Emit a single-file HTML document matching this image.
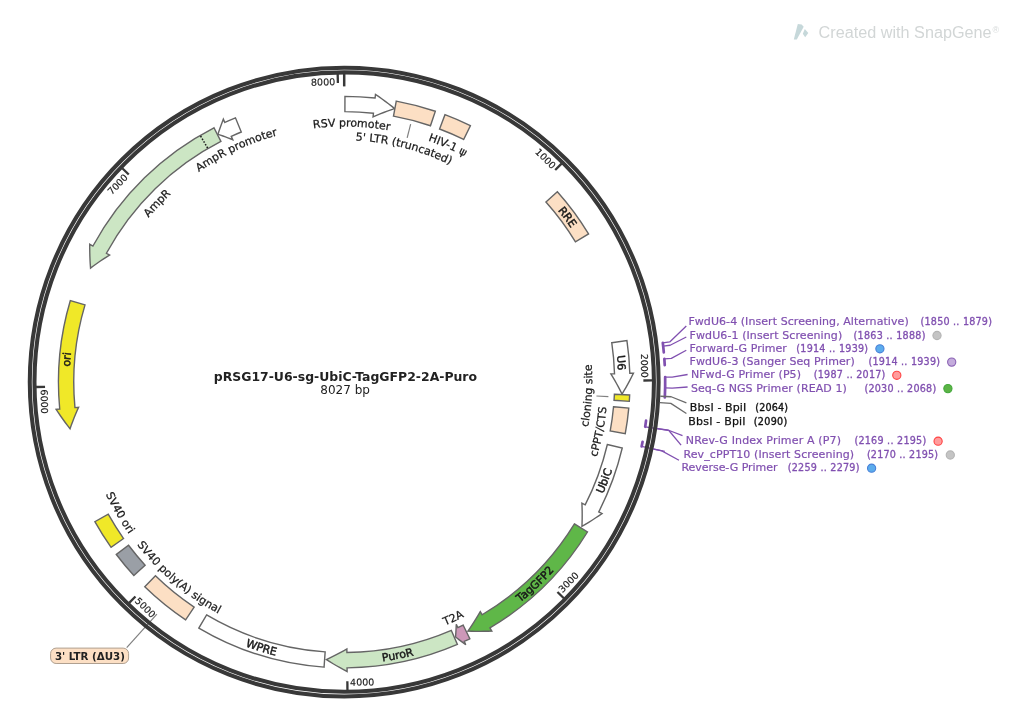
<!DOCTYPE html>
<html lang="en">
<head>
<meta charset="utf-8">
<title>pRSG17-U6-sg-UbiC-TagGFP2-2A-Puro</title>
<style>
html,body{margin:0;padding:0;background:#fff;}
body{width:1024px;height:724px;overflow:hidden;}
svg{display:block;font-family:"DejaVu Sans", "Liberation Sans", sans-serif;}
svg text{white-space:pre;}
</style>
</head>
<body>
<svg width="1024" height="724" viewBox="0 0 1024 724">
<rect width="1024" height="724" fill="#ffffff"/>
<defs>
<path id="p1" d="M266.38 119.38 A274 274 0 0 1 572.68 533.33"/>
<path id="p2" d="M419.72 118.71 A274 274 0 0 1 455.65 632.41"/>
<path id="p3" d="M340.26 664.07 A282 282 0 0 0 528.46 168.63"/>
<path id="p4" d="M217.71 634.14 A282 282 0 0 0 603.1 270.33"/>
<path id="p5" d="M102.61 527.55 A282 282 0 0 0 622.77 425.97"/>
<path id="p6" d="M62.51 395.38 A282 282 0 0 0 568.52 552.99"/>
<path id="p7" d="M229.63 631.77 A274.7 274.7 0 0 1 271.48 117.2"/>
<path id="p8" d="M106.63 287.8 A255.6 255.6 0 0 1 586.8 301.63"/>
<path id="p9" d="M144.45 245.84 A241.8 241.8 0 0 1 584.8 358.08"/>
<path id="p10" d="M159.1 205.83 A255.6 255.6 0 0 1 599.3 398.15"/>
<path id="p11" d="M415.88 619.52 A248 248 0 0 0 441.9 154.15"/>
<path id="p12" d="M385.42 642.36 A263.5 263.5 0 0 0 479.91 156.24"/>
<path id="p13" d="M157.23 567.77 A263.5 263.5 0 0 0 606.78 360.05"/>
<path id="p14" d="M96.91 291.11 A263.5 263.5 0 0 0 475.15 610.76"/>
<path id="p15" d="M141.76 213.43 A263.5 263.5 0 0 0 390.86 641.44"/>
<path id="p16" d="M115.06 495.35 A255.6 255.6 0 0 1 446.94 148.06"/>
<path id="p17" d="M89.53 403.93 A255.6 255.6 0 0 1 525.25 201.68"/>
</defs>
<path d="M645.2 426.78 L668.65 430.26" fill="none" stroke="#8050b0" stroke-width="1.3"/>
<path d="M641.62 446.46 L664.78 451.47" fill="none" stroke="#8050b0" stroke-width="1.3"/>
<path d="M156.9 614.2 L126.7 647.7" fill="none" stroke="#808080" stroke-width="1.2"/>
<circle cx="344.2" cy="382.1" r="314.42" fill="none" stroke="#383838" stroke-width="4.05"/>
<circle cx="344.2" cy="382.1" r="309.73" fill="none" stroke="#383838" stroke-width="4.05"/>
<path d="M344.2 73.9 L344.2 86.4" fill="none" stroke="#383838" stroke-width="2.5"/>
<path d="M561.55 163.59 L555.21 169.98" fill="none" stroke="#383838" stroke-width="2.3"/>
<text transform="translate(344.2 382.1) rotate(44.85)" x="-2.7" y="-297.0" text-anchor="end" font-size="9.5" fill="#1a1a1a" stroke="#1a1a1a" stroke-width="0.15">1000</text>
<path d="M652.4 380.47 L643.4 380.52" fill="none" stroke="#383838" stroke-width="2.3"/>
<text transform="translate(344.2 382.1) rotate(89.7)" x="-2.7" y="-297.0" text-anchor="end" font-size="9.5" fill="#1a1a1a" stroke="#1a1a1a" stroke-width="0.15">2000</text>
<path d="M563.85 598.3 L557.44 591.98" fill="none" stroke="#383838" stroke-width="2.3"/>
<text transform="translate(344.2 382.1) rotate(314.55)" x="2.7" y="303.6" text-anchor="start" font-size="9.5" fill="#1a1a1a" stroke="#1a1a1a" stroke-width="0.15">3000</text>
<path d="M347.46 690.28 L347.36 681.28" fill="none" stroke="#383838" stroke-width="2.3"/>
<text transform="translate(344.2 382.1) rotate(359.39)" x="2.7" y="303.6" text-anchor="start" font-size="9.5" fill="#1a1a1a" stroke="#1a1a1a" stroke-width="0.15">4000</text>
<path d="M129.17 602.89 L135.45 596.44" fill="none" stroke="#383838" stroke-width="2.3"/>
<text transform="translate(344.2 382.1) rotate(404.24)" x="2.7" y="303.6" text-anchor="start" font-size="9.5" fill="#1a1a1a" stroke="#1a1a1a" stroke-width="0.15">5000</text>
<path d="M36.04 386.99 L45.04 386.84" fill="none" stroke="#383838" stroke-width="2.3"/>
<text transform="translate(344.2 382.1) rotate(449.09)" x="2.7" y="303.6" text-anchor="start" font-size="9.5" fill="#1a1a1a" stroke="#1a1a1a" stroke-width="0.15">6000</text>
<path d="M122.28 168.24 L128.76 174.48" fill="none" stroke="#383838" stroke-width="2.3"/>
<text transform="translate(344.2 382.1) rotate(313.94)" x="-2.7" y="-297.0" text-anchor="end" font-size="9.5" fill="#1a1a1a" stroke="#1a1a1a" stroke-width="0.15">7000</text>
<path d="M337.69 73.97 L337.88 82.97" fill="none" stroke="#383838" stroke-width="2.3"/>
<text transform="translate(344.2 382.1) rotate(358.79)" x="-2.7" y="-297.0" text-anchor="end" font-size="9.5" fill="#1a1a1a" stroke="#1a1a1a" stroke-width="0.15">8000</text>
<path d="M344.91 111.65 L344.95 96.35 A285.75 285.75 0 0 1 375.09 98.02 L375.48 94.4 L378.81 96.67 L382.08 98.99 L385.3 101.34 L388.47 103.73 L391.58 106.15 L394.64 108.61 L394.64 108.61 L390.94 109.87 L387.28 111.17 L383.66 112.52 L380.08 113.92 L376.54 115.37 L373.04 116.86 L373.44 113.23 A270.45 270.45 0 0 0 344.91 111.65 Z" fill="#ffffff" stroke="#656565" stroke-width="1.4" stroke-linejoin="miter"/>
<path d="M393.49 116.18 L396.27 101.13 A285.75 285.75 0 0 1 435.34 111.28 L430.46 125.78 A270.45 270.45 0 0 0 393.49 116.18 Z" fill="#fcdfc4" stroke="#656565" stroke-width="1.4" stroke-linejoin="miter"/>
<path d="M439.58 129.03 L444.97 114.71 A285.75 285.75 0 0 1 470.36 125.71 L463.61 139.44 A270.45 270.45 0 0 0 439.58 129.03 Z" fill="#fcdfc4" stroke="#656565" stroke-width="1.4" stroke-linejoin="miter"/>
<path d="M545.94 201.98 L557.35 191.79 A285.75 285.75 0 0 1 588.54 233.95 L575.46 241.88 A270.45 270.45 0 0 0 545.94 201.98 Z" fill="#fcdfc4" stroke="#656565" stroke-width="1.4" stroke-linejoin="miter"/>
<path d="M611.76 342.69 L626.9 340.46 A285.75 285.75 0 0 1 629.81 373.25 L633.46 373.14 L631.67 376.75 L629.83 380.31 L627.94 383.82 L626.02 387.29 L624.05 390.71 L622.04 394.09 L622.04 394.09 L620.29 390.6 L618.49 387.15 L616.64 383.75 L614.76 380.4 L612.84 377.1 L610.87 373.84 L614.52 373.73 A270.45 270.45 0 0 0 611.76 342.69 Z" fill="#ffffff" stroke="#656565" stroke-width="1.4" stroke-linejoin="miter"/>
<path d="M614.38 394.27 L629.66 394.96 A285.75 285.75 0 0 1 629.3 401.34 L614.04 400.31 A270.45 270.45 0 0 0 614.38 394.27 Z" fill="#f0e828" stroke="#656565" stroke-width="1.4" stroke-linejoin="miter"/>
<path d="M613.53 406.71 L628.76 408.1 A285.75 285.75 0 0 1 625.26 433.68 L610.21 430.92 A270.45 270.45 0 0 0 613.53 406.71 Z" fill="#fcdfc4" stroke="#656565" stroke-width="1.4" stroke-linejoin="miter"/>
<path d="M607.35 444.5 L622.24 448.03 A285.75 285.75 0 0 1 598.79 511.85 L602.04 513.51 L598.73 515.81 L595.41 518.04 L592.07 520.22 L588.71 522.33 L585.34 524.38 L581.95 526.37 L581.95 526.37 L582.09 522.47 L582.17 518.58 L582.19 514.72 L582.16 510.87 L582.06 507.05 L581.91 503.25 L585.16 504.91 A270.45 270.45 0 0 0 607.35 444.5 Z" fill="#ffffff" stroke="#656565" stroke-width="1.4" stroke-linejoin="miter"/>
<path d="M574.45 523.97 L587.48 532 A285.75 285.75 0 0 1 489.93 627.89 L491.8 631.03 L487.77 631.21 L483.76 631.32 L479.78 631.36 L475.81 631.35 L471.86 631.28 L467.94 631.15 L467.94 631.15 L470.15 627.93 L472.29 624.69 L474.38 621.44 L476.4 618.17 L478.37 614.89 L480.27 611.59 L482.13 614.73 A270.45 270.45 0 0 0 574.45 523.97 Z" fill="#5fb748" stroke="#656565" stroke-width="1.4" stroke-linejoin="miter"/>
<path d="M463.1 625.01 L469.82 638.76 A285.75 285.75 0 0 1 464.24 641.41 L465.77 644.73 L464.04 643.45 L462.32 642.17 L460.61 640.87 L458.91 639.57 L457.22 638.26 L455.54 636.94 L455.54 636.94 L455.7 634.81 L455.84 632.69 L455.97 630.57 L456.09 628.45 L456.19 626.33 L456.28 624.22 L457.81 627.53 A270.45 270.45 0 0 0 463.1 625.01 Z" fill="#cc98b8" stroke="#656565" stroke-width="1.4" stroke-linejoin="miter"/>
<path d="M451.35 630.42 L457.41 644.47 A285.75 285.75 0 0 1 347.06 667.84 L347.1 671.49 L343.53 669.62 L340.01 667.7 L336.53 665.75 L333.11 663.75 L329.73 661.71 L326.4 659.63 L326.4 659.63 L329.92 657.95 L333.4 656.22 L336.84 654.45 L340.23 652.64 L343.58 650.78 L346.87 648.89 L346.91 652.54 A270.45 270.45 0 0 0 451.35 630.42 Z" fill="#cce6c4" stroke="#656565" stroke-width="1.4" stroke-linejoin="miter"/>
<path d="M325.15 651.88 L324.07 667.14 A285.75 285.75 0 0 1 198.83 628.11 L206.61 614.94 A270.45 270.45 0 0 0 325.15 651.88 Z" fill="#ffffff" stroke="#656565" stroke-width="1.4" stroke-linejoin="miter"/>
<path d="M194.14 607.1 L185.65 619.83 A285.75 285.75 0 0 1 144.77 586.75 L155.45 575.79 A270.45 270.45 0 0 0 194.14 607.1 Z" fill="#fcdfc4" stroke="#656565" stroke-width="1.4" stroke-linejoin="miter"/>
<path d="M145.12 565.16 L133.86 575.52 A285.75 285.75 0 0 1 116.32 554.51 L128.52 545.28 A270.45 270.45 0 0 0 145.12 565.16 Z" fill="#9a9fa6" stroke="#656565" stroke-width="1.4" stroke-linejoin="miter"/>
<path d="M123.58 538.54 L111.1 547.39 A285.75 285.75 0 0 1 94.86 521.68 L108.21 514.21 A270.45 270.45 0 0 0 123.58 538.54 Z" fill="#f0e828" stroke="#656565" stroke-width="1.4" stroke-linejoin="miter"/>
<path d="M85.01 304.88 L70.35 300.51 A285.75 285.75 0 0 0 59.72 409.02 L56.09 409.36 L58.32 412.72 L60.59 416.02 L62.9 419.27 L65.24 422.47 L67.62 425.62 L70.04 428.72 L70.04 428.72 L71.34 425.04 L72.7 421.4 L74.1 417.79 L75.55 414.23 L77.04 410.71 L78.59 407.24 L74.95 407.58 A270.45 270.45 0 0 1 85.01 304.88 Z" fill="#f0e828" stroke="#656565" stroke-width="1.4" stroke-linejoin="miter"/>
<path d="M220.91 141.38 L213.94 127.77 A285.75 285.75 0 0 0 92.95 246 L89.74 244.26 L89.72 248.29 L89.77 252.29 L89.87 256.28 L90.03 260.24 L90.26 264.18 L90.54 268.1 L90.54 268.1 L93.67 265.77 L96.83 263.5 L100 261.29 L103.19 259.14 L106.39 257.05 L109.61 255.02 L106.4 253.28 A270.45 270.45 0 0 1 220.91 141.38 Z" fill="#cce6c4" stroke="#656565" stroke-width="1.4" stroke-linejoin="miter"/>
<path d="M207.62 148.09 L200.41 135.74" fill="none" stroke="#1a1a1a" stroke-width="1.5" stroke-dasharray="1.6 1.5"/>
<path d="M241.27 132 L235.45 117.85 A285.75 285.75 0 0 0 224.86 122.46 L223.34 119.15 L222.37 121.67 L221.43 124.2 L220.51 126.73 L219.63 129.25 L218.77 131.78 L217.95 134.31 L217.95 134.31 L220.46 135.15 L222.96 136.01 L225.44 136.9 L227.9 137.8 L230.35 138.73 L232.78 139.68 L231.25 136.36 A270.45 270.45 0 0 1 241.27 132 Z" fill="#ffffff" stroke="#656565" stroke-width="1.4" stroke-linejoin="miter"/>
<text font-size="11" font-weight="normal" fill="#1a1a1a" stroke="#1a1a1a" stroke-width="0.45" text-anchor="middle"><textPath href="#p1" startOffset="334.75">RRE</textPath></text>
<text font-size="11" font-weight="normal" fill="#1a1a1a" stroke="#1a1a1a" stroke-width="0.45" text-anchor="middle"><textPath href="#p2" startOffset="334.75">U6</textPath></text>
<text font-size="11" font-weight="normal" fill="#1a1a1a" stroke="#1a1a1a" stroke-width="0.45" text-anchor="middle"><textPath href="#p3" startOffset="344.53">UbiC</textPath></text>
<text font-size="11" font-weight="normal" fill="#1a1a1a" stroke="#1a1a1a" stroke-width="0.45" text-anchor="middle"><textPath href="#p4" startOffset="344.53">TagGFP2</textPath></text>
<text font-size="11" font-weight="normal" fill="#1a1a1a" stroke="#1a1a1a" stroke-width="0.45" text-anchor="middle"><textPath href="#p5" startOffset="344.53">PuroR</textPath></text>
<text font-size="11" font-weight="normal" fill="#1a1a1a" stroke="#1a1a1a" stroke-width="0.45" text-anchor="middle"><textPath href="#p6" startOffset="344.53">WPRE</textPath></text>
<text font-size="11" font-weight="normal" fill="#1a1a1a" stroke="#1a1a1a" stroke-width="0.45" text-anchor="middle"><textPath href="#p7" startOffset="335.61">ori</textPath></text>
<text font-size="11" font-weight="normal" fill="#1a1a1a" stroke="#1a1a1a" stroke-width="0.25" text-anchor="middle"><textPath href="#p8" startOffset="312.27">RSV promoter</textPath></text>
<text font-size="11" font-weight="normal" fill="#1a1a1a" stroke="#1a1a1a" stroke-width="0.25" text-anchor="middle"><textPath href="#p9" startOffset="295.41">5' LTR (truncated)</textPath></text>
<text font-size="11" font-weight="normal" fill="#1a1a1a" stroke="#1a1a1a" stroke-width="0.25" text-anchor="middle"><textPath href="#p10" startOffset="312.27">HIV-1 ψ</textPath></text>
<text font-size="11" font-weight="normal" fill="#1a1a1a" stroke="#1a1a1a" stroke-width="0.25" text-anchor="middle"><textPath href="#p11" startOffset="302.99">cloning site</textPath></text>
<text font-size="11" font-weight="normal" fill="#1a1a1a" stroke="#1a1a1a" stroke-width="0.25" text-anchor="middle"><textPath href="#p12" startOffset="321.93">cPPT/CTS</textPath></text>
<text font-size="11" font-weight="normal" fill="#1a1a1a" stroke="#1a1a1a" stroke-width="0.25" text-anchor="middle"><textPath href="#p13" startOffset="321.93">T2A</textPath></text>
<text font-size="11" font-weight="normal" fill="#1a1a1a" stroke="#1a1a1a" stroke-width="0.25" text-anchor="middle"><textPath href="#p14" startOffset="321.93">SV40 poly(A) signal</textPath></text>
<text font-size="11" font-weight="normal" fill="#1a1a1a" stroke="#1a1a1a" stroke-width="0.25" text-anchor="middle"><textPath href="#p15" startOffset="321.93">SV40 ori</textPath></text>
<text font-size="11" font-weight="normal" fill="#1a1a1a" stroke="#1a1a1a" stroke-width="0.25" text-anchor="middle"><textPath href="#p16" startOffset="312.27">AmpR</textPath></text>
<text font-size="11" font-weight="normal" fill="#1a1a1a" stroke="#1a1a1a" stroke-width="0.25" text-anchor="middle"><textPath href="#p17" startOffset="312.27">AmpR promoter</textPath></text>
<path d="M407.16 137.78 L410.65 124.22" fill="none" stroke="#808080" stroke-width="1.2"/>
<path d="M596.42 395.98 L608.4 396.64" fill="none" stroke="#808080" stroke-width="1.2"/>
<rect x="50.6" y="648.1" width="78" height="15.4" rx="5.5" ry="5.5" fill="#fcdfc4" stroke="#b0a090" stroke-width="1"/>
<text x="89.9" y="659.8" font-size="11" font-weight="bold" fill="#222" text-anchor="middle" textLength="70" lengthAdjust="spacingAndGlyphs">3' LTR (ΔU3)</text>
<path d="M662.79 342.81 A321 321 0 0 1 663.81 352.31" fill="none" stroke="#8050b0" stroke-width="2.7" stroke-linecap="round"/>
<path d="M664.35 358.82 A321 321 0 0 1 664.75 365.08" fill="none" stroke="#8050b0" stroke-width="2.7" stroke-linecap="round"/>
<path d="M665.16 377.14 A321 321 0 0 1 664.83 397.48" fill="none" stroke="#8050b0" stroke-width="2.7" stroke-linecap="round"/>
<path d="M646.05 420.64 A304.3 304.3 0 0 1 645.2 426.78" fill="none" stroke="#8050b0" stroke-width="2.7" stroke-linecap="round"/>
<path d="M642.59 441.79 A304.3 304.3 0 0 1 641.62 446.46" fill="none" stroke="#8050b0" stroke-width="2.7" stroke-linecap="round"/>
<path d="M662.79 342.81 L669.73 341.96 L686.3 326" fill="none" stroke="#8050b0" stroke-width="1.3" stroke-linejoin="round"/>
<path d="M663.17 346.06 L670.13 345.27 L686.3 337" fill="none" stroke="#8050b0" stroke-width="1.3" stroke-linejoin="round"/>
<path d="M664.35 358.82 L671.34 358.31 L686.3 350.2" fill="none" stroke="#8050b0" stroke-width="1.3" stroke-linejoin="round"/>
<path d="M665.16 377.14 L672.16 377.03 L687.6 374.5" fill="none" stroke="#8050b0" stroke-width="1.3" stroke-linejoin="round"/>
<path d="M665.15 387.94 L672.15 388.07 L687.6 387" fill="none" stroke="#8050b0" stroke-width="1.3" stroke-linejoin="round"/>
<path d="M660.28 396.27 L671.17 396.76 L686.4 402.9" fill="none" stroke="#6a6a6a" stroke-width="1.3" stroke-linejoin="round"/>
<path d="M659.93 402.7 L670.81 403.41 L686.4 413.5" fill="none" stroke="#6a6a6a" stroke-width="1.3" stroke-linejoin="round"/>
<path d="M657.17 428.55 L668.65 430.26 L682.5 435.6" fill="none" stroke="#8050b0" stroke-width="1.3"/>
<path d="M668.65 430.26 L681.1 445.2" fill="none" stroke="#8050b0" stroke-width="1.3"/>
<path d="M653.44 449.02 L661.85 450.84 L679 460.2" fill="none" stroke="#8050b0" stroke-width="1.3"/>
<text x="688.4" y="325.2" font-size="11" fill="#8050b0" stroke="#8050b0" stroke-width="0.2" textLength="220.3" lengthAdjust="spacing">FwdU6-4 (Insert Screening, Alternative)</text>
<text x="920.6" y="325.2" font-size="9.6" fill="#8050b0" stroke="#8050b0" stroke-width="0.3" textLength="71.3" lengthAdjust="spacing">(1850 .. 1879)</text>
<text x="689.6" y="338.5" font-size="11" fill="#8050b0" stroke="#8050b0" stroke-width="0.2" textLength="152.6" lengthAdjust="spacing">FwdU6-1 (Insert Screening)</text>
<text x="853.6" y="338.5" font-size="9.6" fill="#8050b0" stroke="#8050b0" stroke-width="0.3" textLength="71.8" lengthAdjust="spacing">(1863 .. 1888)</text>
<circle cx="937.0" cy="335.5" r="4.1" fill="#c4c4c4" stroke="#b4b4b4" stroke-width="1.1"/>
<text x="689.6" y="351.8" font-size="11" fill="#8050b0" stroke="#8050b0" stroke-width="0.2" textLength="97.3" lengthAdjust="spacing">Forward-G Primer</text>
<text x="796.3" y="351.8" font-size="9.6" fill="#8050b0" stroke="#8050b0" stroke-width="0.3" textLength="71.8" lengthAdjust="spacing">(1914 .. 1939)</text>
<circle cx="879.9" cy="348.8" r="4.1" fill="#5cacec" stroke="#4a80d8" stroke-width="1.1"/>
<text x="689.6" y="365.1" font-size="11" fill="#8050b0" stroke="#8050b0" stroke-width="0.2" textLength="165.1" lengthAdjust="spacing">FwdU6-3 (Sanger Seq Primer)</text>
<text x="868.4" y="365.1" font-size="9.6" fill="#8050b0" stroke="#8050b0" stroke-width="0.3" textLength="71.6" lengthAdjust="spacing">(1914 .. 1939)</text>
<circle cx="951.7" cy="362.1" r="4.1" fill="#c4acdc" stroke="#8a62b4" stroke-width="1.1"/>
<text x="690.9" y="378.3" font-size="11" fill="#8050b0" stroke="#8050b0" stroke-width="0.2" textLength="110.1" lengthAdjust="spacing">NFwd-G Primer (P5)</text>
<text x="813.8" y="378.3" font-size="9.6" fill="#8050b0" stroke="#8050b0" stroke-width="0.3" textLength="71.5" lengthAdjust="spacing">(1987 .. 2017)</text>
<circle cx="896.8" cy="375.3" r="4.1" fill="#ff9c9c" stroke="#ff4444" stroke-width="1.1"/>
<text x="690.9" y="391.6" font-size="11" fill="#8050b0" stroke="#8050b0" stroke-width="0.2" textLength="156" lengthAdjust="spacing">Seq-G NGS Primer (READ 1)</text>
<text x="864.4" y="391.6" font-size="9.6" fill="#8050b0" stroke="#8050b0" stroke-width="0.3" textLength="71.8" lengthAdjust="spacing">(2030 .. 2068)</text>
<circle cx="947.9" cy="388.6" r="4.1" fill="#5cb446" stroke="#44a83c" stroke-width="1.1"/>
<text x="689.8" y="411.3" font-size="11" fill="#111" stroke="#111" stroke-width="0.25" textLength="56.5" lengthAdjust="spacing">BbsI - BpiI</text>
<text x="755.3" y="411.3" font-size="9.6" fill="#111" stroke="#111" stroke-width="0.35" textLength="32.8" lengthAdjust="spacing">(2064)</text>
<text x="688.3" y="424.9" font-size="11" fill="#111" stroke="#111" stroke-width="0.25" textLength="57.3" lengthAdjust="spacing">BbsI - BpiI</text>
<text x="753.8" y="424.9" font-size="9.6" fill="#111" stroke="#111" stroke-width="0.35" textLength="33.4" lengthAdjust="spacing">(2090)</text>
<text x="685.8" y="444.2" font-size="11" fill="#8050b0" stroke="#8050b0" stroke-width="0.2" textLength="155.2" lengthAdjust="spacing">NRev-G Index Primer A (P7)</text>
<text x="854.4" y="444.2" font-size="9.6" fill="#8050b0" stroke="#8050b0" stroke-width="0.3" textLength="71.8" lengthAdjust="spacing">(2169 .. 2195)</text>
<circle cx="938.1" cy="441.2" r="4.1" fill="#ff9c9c" stroke="#ff4444" stroke-width="1.1"/>
<text x="683.5" y="458.0" font-size="11" fill="#8050b0" stroke="#8050b0" stroke-width="0.2" textLength="170.6" lengthAdjust="spacing">Rev_cPPT10 (Insert Screening)</text>
<text x="866.9" y="458.0" font-size="9.6" fill="#8050b0" stroke="#8050b0" stroke-width="0.3" textLength="71.2" lengthAdjust="spacing">(2170 .. 2195)</text>
<circle cx="950.3" cy="455" r="4.1" fill="#c4c4c4" stroke="#b4b4b4" stroke-width="1.1"/>
<text x="681.4" y="471.2" font-size="11" fill="#8050b0" stroke="#8050b0" stroke-width="0.2" textLength="96.1" lengthAdjust="spacing">Reverse-G Primer</text>
<text x="787.8" y="471.2" font-size="9.6" fill="#8050b0" stroke="#8050b0" stroke-width="0.3" textLength="71.6" lengthAdjust="spacing">(2259 .. 2279)</text>
<circle cx="871.6" cy="468.2" r="4.1" fill="#5cacec" stroke="#4a80d8" stroke-width="1.1"/>
<text x="345.4" y="380.6" font-size="12" font-weight="bold" fill="#222" text-anchor="middle" textLength="263.3" lengthAdjust="spacingAndGlyphs">pRSG17-U6-sg-UbiC-TagGFP2-2A-Puro</text>
<text x="345.1" y="394" font-size="12" fill="#222" text-anchor="middle">8027 bp</text>
<g fill="#c6d8da"><path d="M797.8 23.9 L801.6 24.4 L803.7 26.8 L796.8 39.5 L793.8 39.5 Z"/><path d="M804.8 29 L808.3 32.9 L805.2 37.2 L802.8 33.7 Z"/></g>
<text x="818.6" y="38.4" font-size="16" fill="#d2d6d6" font-family="'Liberation Sans', sans-serif" textLength="173" lengthAdjust="spacingAndGlyphs">Created with SnapGene</text>
<text x="992.4" y="32.6" font-size="9" fill="#d6dada" font-family="'Liberation Sans', sans-serif">®</text>
</svg>
</body>
</html>
